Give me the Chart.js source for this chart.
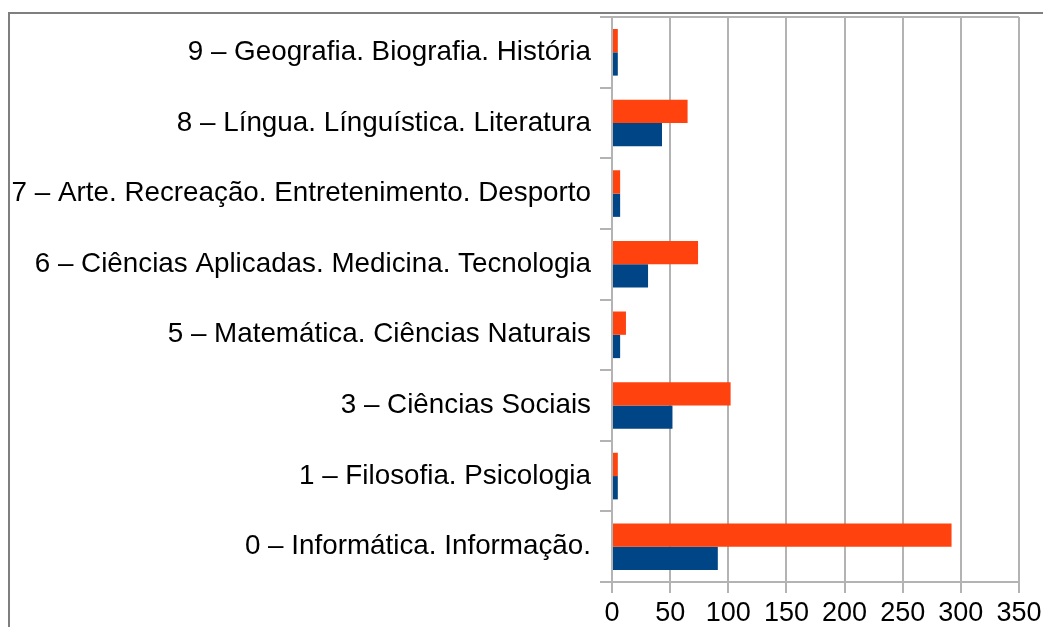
<!DOCTYPE html>
<html>
<head>
<meta charset="utf-8">
<script src="https://cdn.jsdelivr.net/npm/chart.js@4/dist/chart.umd.min.js"></script>
<style>
  html, body { margin: 0; padding: 0; background: #fff; overflow: hidden; }
  #frame { position: absolute; left: 8px; top: 12px; width: 1100px; height: 700px;
           border-left: 2px solid #7f7f7f; border-top: 2px solid #7f7f7f; }
  #wrap { position: absolute; left: 0; top: 0; width: 1043px; height: 627px; }
</style>
</head>
<body>
<div id="frame"></div>
<div id="wrap"><canvas id="chart-area" width="1043" height="627"></canvas></div>
<script>
// categories, top to bottom as drawn
var categories = [
    "9 – Geografia. Biografia. História",
    "8 – Língua. Línguística. Literatura",
    "7 – Arte. Recreação. Entretenimento. Desporto",
    "6 – Ciências Aplicadas. Medicina. Tecnologia",
    "5 – Matemática. Ciências Naturais",
    "3 – Ciências Sociais",
    "1 – Filosofia. Psicologia",
    "0 – Informática. Informação."
];
var seriesOrange = [5, 65, 7, 74, 12, 102, 5, 292];
var seriesBlue = [5, 43, 7, 31, 7, 52, 5, 91];
var xTicks = [0, 50, 100, 150, 200, 250, 300, 350];

var gray = "#b3b3b3";

Chart.defaults.font.family = "'Liberation Sans', Arial, sans-serif";
Chart.defaults.color = "#000";

var config = {
    type: 'bar',
    data: {
        labels: categories,
        datasets: [{
            data: seriesOrange,
            backgroundColor: "#ff420e",
            categoryPercentage: 0.66,
            barPercentage: 1.0
        }, {
            data: seriesBlue,
            backgroundColor: "#004586",
            categoryPercentage: 0.66,
            barPercentage: 1.0
        }]
    },
    options: {
        indexAxis: 'y',
        responsive: false,
        animation: false,
        layout: { padding: { top: 17, right: 24, bottom: 0, left: 0 } },
        plugins: {
            legend: { display: false },
            tooltip: { enabled: false }
        },
        scales: {
            x: {
                min: xTicks[0],
                max: xTicks[xTicks.length - 1],
                afterBuildTicks: function (scale) {
                    scale.ticks = xTicks.map(function (v) { return { value: v }; });
                },
                afterFit: function (scale) {
                    scale.height = 45;
                    scale.paddingLeft = 0;
                    scale.paddingRight = 0;
                },
                grid: { color: gray, lineWidth: 2, tickLength: 11 },
                border: { color: gray, width: 2 },
                ticks: { font: { size: 27 }, padding: 4, maxRotation: 0 }
            },
            y: {
                afterFit: function (scale) {
                    scale.width = 612;
                    scale.paddingTop = 0;
                    scale.paddingBottom = 0;
                },
                grid: {
                    offset: true,
                    lineWidth: 2,
                    tickLength: 12,
                    tickColor: gray,
                    color: function (ctx) { return ctx.index === 0 ? gray : 'transparent'; }
                },
                border: { color: gray, width: 2 },
                ticks: { font: { size: 27.8 }, padding: 9 }
            }
        }
    }
};

var ctx = document.getElementById("chart-area").getContext("2d");
var myChart = new Chart(ctx, config);
</script>
</body>
</html>
